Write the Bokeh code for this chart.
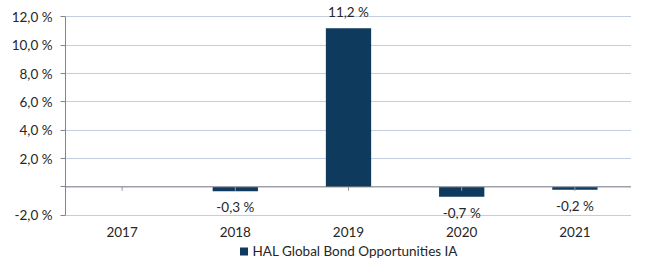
from bokeh.plotting import figure
from bokeh.layouts import column
from bokeh.models import (ColumnDataSource, Range1d, FixedTicker, Span, LabelSet,
                          Legend, LegendItem)
from bokeh.core.properties import value
from bokeh.embed import file_html
from bokeh.resources import INLINE
import math

# ---- data ----
years = ["2017", "2018", "2019", "2020", "2021"]
returns = [float("nan"), -0.3, 11.2, -0.7, -0.2]
series_name = "HAL Global Bond Opportunities IA"
y_ticks = [-2, 0, 2, 4, 6, 8, 10, 12]

BAR = "#0e3a5e"
FONT = "Lato"
TXT = "#262626"
FS = "13.5px"

def fmt(v):
    return f"{v:.1f}".replace(".", ",") + " %"

p = figure(x_range=years, y_range=Range1d(-2.3, 12.8), width=631, height=243,
           output_backend="svg", toolbar_location=None,
           min_border_left=65, min_border_right=0, min_border_top=5,
           min_border_bottom=24)
p.outline_line_color = None
p.background_fill_color = "white"
p.border_fill_color = "white"

valid = [(y, v) for y, v in zip(years, returns) if not math.isnan(v)]
src = ColumnDataSource(dict(x=[y for y, _ in valid], top=[v for _, v in valid]))
bars = p.vbar(x="x", top="top", bottom=0, width=0.4, source=src,
              fill_color=BAR, line_color=None)

# zero line and small category ticks on it
p.add_layout(Span(location=0, dimension="width", line_color="#868686", line_width=1))
p.segment(x0=years, y0=[0] * len(years), x1=years, y1=[-0.28] * len(years),
          line_color="#9a9a9a", line_width=1)

# y axis
p.yaxis.ticker = FixedTicker(ticks=y_ticks)
p.yaxis.bounds = (y_ticks[0], y_ticks[-1])
p.yaxis.major_label_overrides = {t: ("" if t == 0 else fmt(t)) for t in y_ticks}
p.yaxis.axis_line_color = "#868686"
p.yaxis.major_tick_line_color = "#868686"
p.yaxis.major_tick_out = 5
p.yaxis.major_tick_in = 0
p.yaxis.minor_tick_line_color = None
p.yaxis.major_label_standoff = 8
p.yaxis.major_label_text_font = FONT
p.yaxis.major_label_text_font_size = FS
p.yaxis.major_label_text_color = TXT

# x axis
p.xaxis.axis_line_color = None
p.xaxis.major_tick_line_color = None
p.xaxis.minor_tick_line_color = None
p.xaxis.major_tick_out = 0
p.xaxis.major_tick_in = 0
p.xaxis.major_label_standoff = 7
p.xaxis.major_label_text_font = FONT
p.xaxis.major_label_text_font_size = FS
p.xaxis.major_label_text_color = TXT

p.xgrid.grid_line_color = None
p.ygrid.ticker = FixedTicker(ticks=y_ticks)
p.ygrid.grid_line_color = "#c3cde0"
p.ygrid.grid_line_width = 1

# data labels
pos = [(y, v) for y, v in valid if v >= 0]
neg = [(y, v) for y, v in valid if v < 0]
for group, off in ((pos, 11), (neg, -21)):
    s = ColumnDataSource(dict(x=[g[0] for g in group], y=[g[1] for g in group],
                              t=[fmt(g[1]) for g in group]))
    p.add_layout(LabelSet(x="x", y="y", text="t", source=s, y_offset=off,
                          text_align="center", text_baseline="alphabetic",
                          text_font=value(FONT), text_font_size=value(FS),
                          text_color=TXT))

# legend row (separate strip below the chart)
lg = figure(width=631, height=16, x_range=Range1d(0, 1), y_range=Range1d(0, 1),
            output_backend="svg", toolbar_location=None,
            x_axis_type=None, y_axis_type=None,
            min_border_left=65, min_border_right=0, min_border_top=0,
            min_border_bottom=0)
lg.outline_line_color = None
lg.grid.visible = False
# swatch renderer placed outside the visible range; only its legend glyph shows
swatch = lg.vbar(x=[5], top=[1], width=0.1, fill_color=BAR, line_color=None)
legend = Legend(items=[LegendItem(label=series_name, renderers=[swatch])],
                location="center", orientation="horizontal",
                padding=0, margin=0, spacing=0, border_line_color=None,
                background_fill_alpha=0, glyph_width=10, glyph_height=10,
                label_standoff=4, label_height=12,
                label_text_font=FONT, label_text_font_size=FS,
                label_text_color=TXT)
lg.add_layout(legend, "center")

layout = column(p, lg, spacing=0)
open("out.html", "w").write(file_html(layout, INLINE))
